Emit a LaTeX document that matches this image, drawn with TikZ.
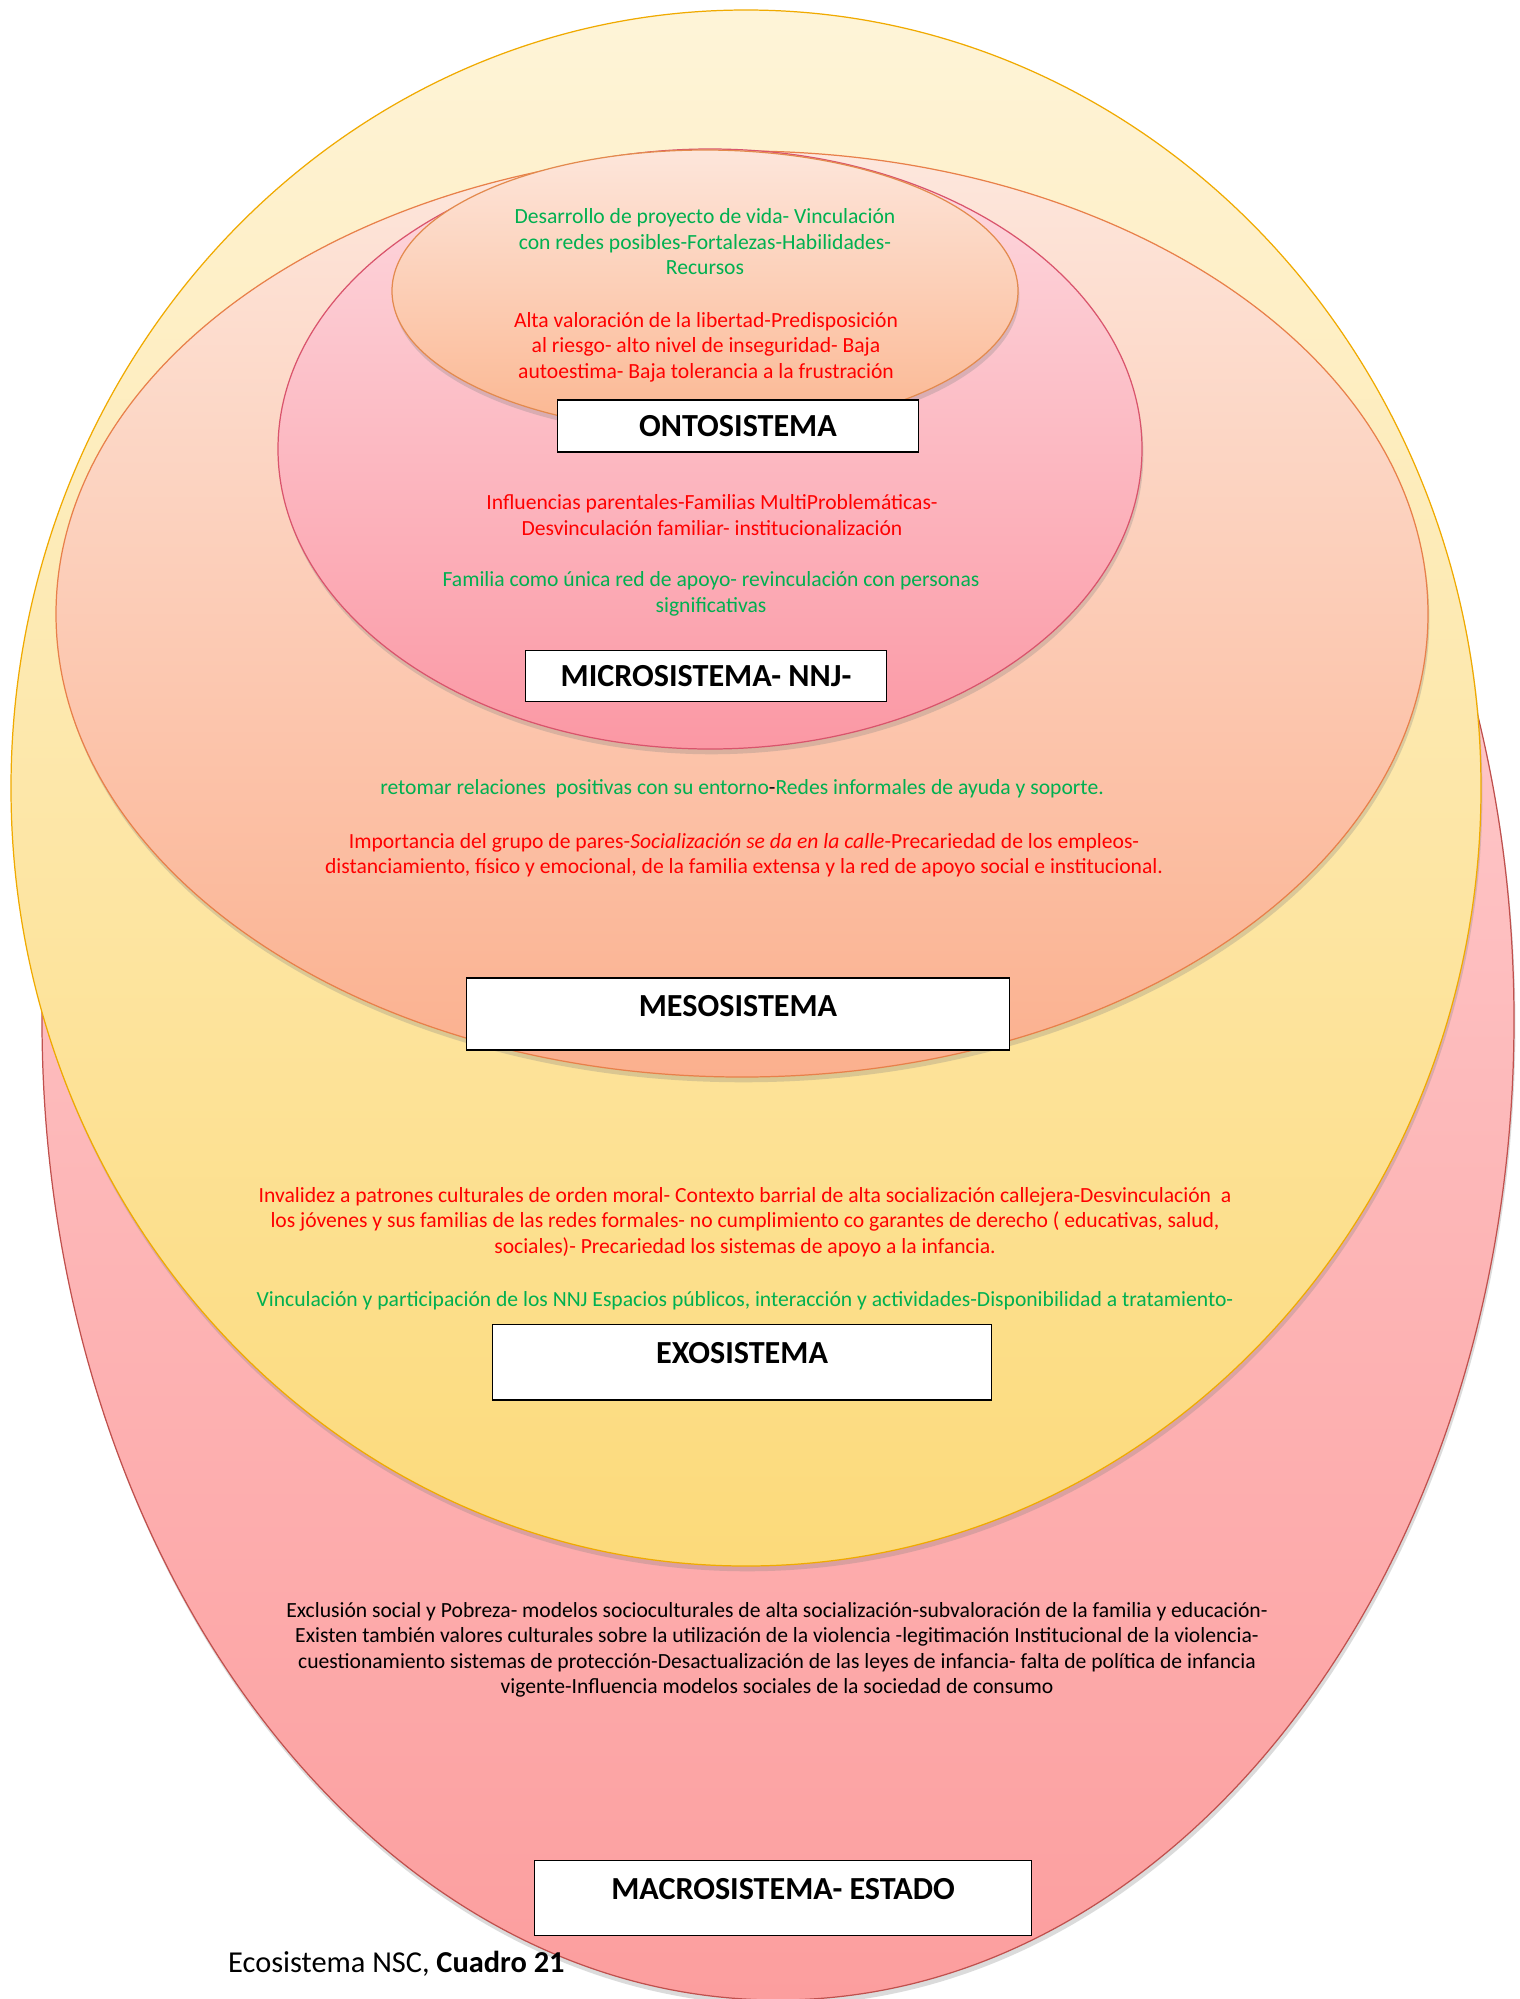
\documentclass[tikz,border=0pt]{standalone}
\usepackage{fontspec}
\setmainfont{Carlito}
\usepackage{tikz}
\usetikzlibrary{shadows}

\definecolor{txtgreen}{HTML}{00B050}
\definecolor{txtred}{HTML}{FF0000}
\definecolor{macroline}{HTML}{C0504D}
\definecolor{exoline}{HTML}{F0AA00}
\definecolor{mesoline}{HTML}{E8804A}
\definecolor{microline}{HTML}{D9546C}
\definecolor{ontoline}{HTML}{E38A4E}

\begin{document}
\begin{tikzpicture}[
        x=0.02cm, y=-0.02cm,
        % the nested systems, drawn from the outside in
        ring/.style={draw, line width=0.7pt,
            drop shadow={opacity=0.28, shadow xshift=0.8pt, shadow yshift=-3pt}},
        sysbox/.style={draw, fill=white, line width=0.6pt, inner sep=0pt},
        systxt/.style={font=\fontsize{18.3}{20}\selectfont\bfseries},
        note/.style={align=center, font=\fontsize{12.3}{14.5}\selectfont}
    ]
    \useasboundingbox (0,0) rectangle (1519,1999);
    \fill[white] (0,0) rectangle (1519,1999);

    \path[ring, draw=macroline, top color={rgb,255:red,255;green,218;blue,220},
        bottom color={rgb,255:red,252;green,158;blue,158}]
        (778,1020) ellipse [x radius=736, y radius=980];
    \path[ring, draw=exoline, top color={rgb,255:red,254;green,244;blue,216},
        bottom color={rgb,255:red,252;green,218;blue,122}]
        (746,788) ellipse [x radius=735, y radius=778];
    \path[ring, draw=mesoline, top color={rgb,255:red,253;green,231;blue,221},
        bottom color={rgb,255:red,251;green,176;blue,142}]
        (742,614) ellipse [x radius=686, y radius=463];
    \path[ring, draw=microline, top color={rgb,255:red,253;green,218;blue,224},
        bottom color={rgb,255:red,251;green,152;blue,164}]
        (710,449) ellipse [x radius=432, y radius=300];
    \path[ring, draw=ontoline, top color={rgb,255:red,253;green,230;blue,219},
        bottom color={rgb,255:red,251;green,182;blue,144}]
        (705,291) ellipse [x radius=313, y radius=141];

    % ontosistema
    \node[note, text=txtgreen] (ontopos) at (705,242)
        {Desarrollo de proyecto de vida- Vinculación\\
         con redes posibles-Fortalezas-Habilidades-\\
         Recursos};
    \node[note, text=txtred] (ontoneg) at (706,347)
        {Alta valoración de la libertad-Predisposición\\
         al riesgo- alto nivel de inseguridad- Baja\\
         autoestima- Baja tolerancia a la frustración};
    \node[sysbox, minimum width=7.22cm, minimum height=1.04cm] (onto) at (738,426) {};
    \node[systxt] (ontotxt) at (onto.center) {ONTOSISTEMA};

    % microsistema
    \node[note, text=txtred] (microneg) at (712,515)
        {Influencias parentales-Familias MultiProblemáticas-\\
         Desvinculación familiar- institucionalización};
    \node[note, text=txtgreen] (micropos) at (711,594)
        {Familia como única red de apoyo- revinculación con personas\\
         significativas};
    \node[sysbox, minimum width=7.22cm, minimum height=1.02cm] (micro) at (706,676) {};
    \node[systxt] (microtxt) at (micro.center) {MICROSISTEMA- NNJ-};

    % mesosistema
    \node[note, text=txtgreen] (mesopos) at (742,789)
        {retomar relaciones\ \ positivas con su entorno{\color{black}-}Redes informales de ayuda y soporte.};
    \node[note, text=txtred] (mesoneg) at (744,855)
        {Importancia del grupo de pares-\textit{Socialización se da en la calle}-Precariedad de los empleos-\\
         distanciamiento, físico y emocional, de la familia extensa y la red de apoyo social e institucional.};
    \node[sysbox, minimum width=10.86cm, minimum height=1.44cm] (meso) at (738,1014) {};
    \node[systxt] (mesotxt) at (738,1006) {MESOSISTEMA};

    % exosistema
    \node[note, text=txtred] (exoneg) at (745,1222)
        {Invalidez a patrones culturales de orden moral- Contexto barrial de alta socialización callejera-Desvinculación\ \ a\\
         los jóvenes y sus familias de las redes formales- no cumplimiento co garantes de derecho ( educativas, salud,\\
         sociales)- Precariedad los sistemas de apoyo a la infancia.};
    \node[note, text=txtgreen] (exopos) at (745,1301)
        {Vinculación y participación de los NNJ Espacios públicos, interacción y actividades-Disponibilidad a tratamiento-};
    \node[sysbox, minimum width=9.98cm, minimum height=1.52cm] (exo) at (742,1362) {};
    \node[systxt] (exotxt) at (742,1353) {EXOSISTEMA};

    % macrosistema
    \node[note] (macronote) at (777,1650)
        {Exclusión social y Pobreza- modelos socioculturales de alta socialización-subvaloración de la familia y educación-\\
         Existen también valores culturales sobre la utilización de la violencia -legitimación Institucional de la violencia-\\
         cuestionamiento sistemas de protección-Desactualización de las leyes de infancia- falta de política de infancia\\
         vigente-Influencia modelos sociales de la sociedad de consumo};
    \node[sysbox, minimum width=9.96cm, minimum height=1.5cm] (macro) at (783,1898) {};
    \node[systxt] (macrotxt) at (783,1889) {MACROSISTEMA- ESTADO};

    \node[anchor=west, font=\fontsize{17.3}{19}\selectfont] (caption) at (222,1964)
        {Ecosistema NSC, \textbf{Cuadro 21}};
\end{tikzpicture}
\end{document}
